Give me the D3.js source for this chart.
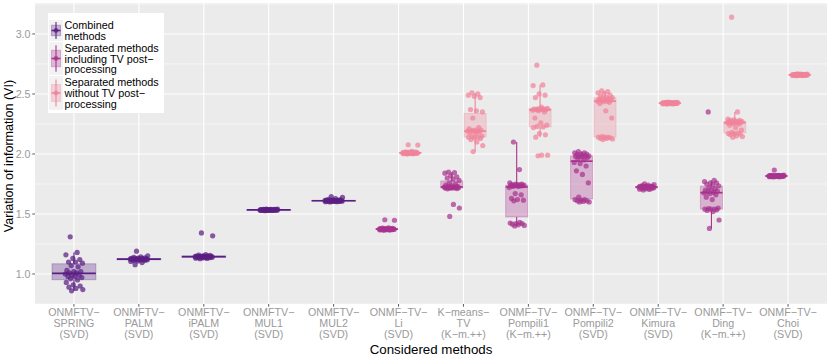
<!DOCTYPE html>
<html>
<head>
<meta charset="utf-8">
<script src="https://cdn.jsdelivr.net/npm/d3@7"></script>
<style>
  body { margin: 0; background: #ffffff; }
  svg { display: block; font-family: "Liberation Sans", Arial, Helvetica, sans-serif; }
</style>
</head>
<body>
<div id="chart"></div>
<script>
// categories along the x axis
const categories = ["SPRING", "PALM", "iPALM", "MUL1", "MUL2", "Li", "Kmeans", "Pompili1", "Pompili2", "Kimura", "Ding", "Choi"];

const tickLines = [
  ["ONMFTV\u2212", "SPRING", "(SVD)"],
  ["ONMFTV\u2212", "PALM", "(SVD)"],
  ["ONMFTV\u2212", "iPALM", "(SVD)"],
  ["ONMFTV\u2212", "MUL1", "(SVD)"],
  ["ONMFTV\u2212", "MUL2", "(SVD)"],
  ["ONMF\u2212TV\u2212", "Li", "(SVD)"],
  ["K\u2212means\u2212", "TV", "(K\u2212m.++)"],
  ["ONMF\u2212TV\u2212", "Pompili1", "(K\u2212m.++)"],
  ["ONMF\u2212TV\u2212", "Pompili2", "(SVD)"],
  ["ONMF\u2212TV\u2212", "Kimura", "(SVD)"],
  ["ONMF\u2212TV\u2212", "Ding", "(K\u2212m.++)"],
  ["ONMF\u2212TV\u2212", "Choi", "(SVD)"]
];

const yTicks = [1.0, 1.5, 2.0, 2.5, 3.0];
const yMinorTicks = [0.75, 1.25, 1.75, 2.25, 2.75, 3.25];

const legendLines = [
  ["Combined", "methods"],
  ["Separated methods", "including TV post\u2212", "processing"],
  ["Separated methods", "without TV post\u2212", "processing"]
];

const groupColors = ["#5a1f83", "#a8338f", "#f0849a"];

// combined methods
const springVI = [0.86, 0.87, 0.88, 0.89, 0.90, 0.91, 0.93, 0.95, 0.96, 0.97, 0.98, 0.98, 0.99, 0.99, 1.00, 1.01, 1.01, 1.02, 1.02, 1.03, 1.06, 1.07, 1.09, 1.10, 1.10, 1.12, 1.13, 1.16, 1.18, 1.31];
const palmVI = [1.190, 1.152, 1.143, 1.138, 1.134, 1.132, 1.130, 1.129, 1.128, 1.127, 1.126, 1.126, 1.125, 1.125, 1.124, 1.124, 1.123, 1.123, 1.122, 1.121, 1.120, 1.120, 1.118, 1.116, 1.114, 1.112, 1.108, 1.104, 1.095, 1.078];
const ipalmVI = [1.342, 1.318, 1.162, 1.158, 1.155, 1.152, 1.150, 1.149, 1.148, 1.147, 1.146, 1.146, 1.145, 1.145, 1.144, 1.144, 1.143, 1.143, 1.142, 1.142, 1.141, 1.140, 1.139, 1.138, 1.137, 1.136, 1.134, 1.132, 1.130, 1.128];
const mul1VI = [1.541, 1.540, 1.539, 1.538, 1.538, 1.537, 1.537, 1.536, 1.536, 1.536, 1.535, 1.535, 1.535, 1.534, 1.534, 1.534, 1.534, 1.533, 1.533, 1.533, 1.533, 1.532, 1.532, 1.532, 1.531, 1.531, 1.530, 1.530, 1.529, 1.528];
const mul2VI = [1.645, 1.638, 1.628, 1.622, 1.618, 1.616, 1.615, 1.614, 1.613, 1.613, 1.612, 1.612, 1.611, 1.611, 1.611, 1.610, 1.610, 1.610, 1.609, 1.609, 1.608, 1.608, 1.607, 1.607, 1.606, 1.605, 1.604, 1.603, 1.602, 1.600];

// separated methods including TV post-processing
const liWithTV = [1.452, 1.448, 1.385, 1.382, 1.380, 1.379, 1.378, 1.377, 1.377, 1.376, 1.376, 1.375, 1.375, 1.375, 1.374, 1.374, 1.374, 1.373, 1.373, 1.372, 1.372, 1.371, 1.371, 1.370, 1.370, 1.369, 1.368, 1.367, 1.366, 1.364];
const kmeansWithTV = [1.48, 1.55, 1.58, 1.71, 1.712, 1.715, 1.716, 1.717, 1.718, 1.719, 1.72, 1.721, 1.722, 1.723, 1.724, 1.726, 1.728, 1.73, 1.735, 1.74, 1.75, 1.76, 1.78, 1.79, 1.80, 1.81, 1.82, 1.84, 1.845, 1.85];
const pompili1WithTV = [1.40, 1.405, 1.41, 1.415, 1.42, 1.42, 1.425, 1.43, 1.61, 1.615, 1.62, 1.63, 1.66, 1.67, 1.72, 1.73, 1.73, 1.735, 1.735, 1.74, 1.74, 1.74, 1.74, 1.745, 1.745, 1.75, 1.75, 1.76, 1.87, 2.10];
const pompili2WithTV = [1.60, 1.60, 1.605, 1.61, 1.61, 1.615, 1.62, 1.62, 1.64, 1.76, 1.83, 1.86, 1.90, 1.92, 1.93, 1.95, 1.96, 1.97, 1.975, 1.98, 1.98, 1.98, 1.985, 1.99, 1.995, 2.00, 2.00, 2.01, 2.01, 2.02];
const kimuraWithTV = [1.752, 1.745, 1.740, 1.736, 1.733, 1.731, 1.730, 1.729, 1.728, 1.727, 1.727, 1.726, 1.726, 1.725, 1.725, 1.724, 1.724, 1.723, 1.722, 1.721, 1.720, 1.719, 1.718, 1.716, 1.714, 1.712, 1.710, 1.707, 1.704, 1.700];
const dingWithTV = [1.38, 1.45, 1.52, 1.53, 1.535, 1.54, 1.54, 1.54, 1.545, 1.55, 1.62, 1.64, 1.66, 1.67, 1.675, 1.68, 1.685, 1.69, 1.70, 1.70, 1.71, 1.72, 1.735, 1.74, 1.75, 1.76, 1.76, 1.77, 1.78, 2.35];
const choiWithTV = [1.866, 1.825, 1.822, 1.821, 1.820, 1.820, 1.819, 1.819, 1.818, 1.818, 1.818, 1.817, 1.817, 1.817, 1.817, 1.816, 1.816, 1.816, 1.815, 1.815, 1.815, 1.814, 1.814, 1.813, 1.813, 1.812, 1.812, 1.811, 1.810, 1.809];

// separated methods without TV post-processing
const liNoTV = [2.076, 2.074, 2.022, 2.018, 2.016, 2.015, 2.014, 2.013, 2.012, 2.012, 2.011, 2.011, 2.010, 2.010, 2.010, 2.009, 2.009, 2.009, 2.008, 2.008, 2.007, 2.007, 2.006, 2.006, 2.005, 2.004, 2.003, 2.002, 2.001, 1.999];
const kmeansNoTV = [2.02, 2.07, 2.10, 2.12, 2.13, 2.135, 2.14, 2.14, 2.145, 2.15, 2.17, 2.18, 2.185, 2.19, 2.19, 2.19, 2.195, 2.20, 2.20, 2.21, 2.22, 2.30, 2.35, 2.36, 2.37, 2.47, 2.48, 2.49, 2.50, 2.51];
const pompili1NoTV = [1.985, 1.99, 1.99, 2.14, 2.16, 2.17, 2.22, 2.225, 2.23, 2.24, 2.26, 2.30, 2.35, 2.36, 2.365, 2.37, 2.37, 2.37, 2.372, 2.374, 2.375, 2.375, 2.38, 2.39, 2.47, 2.49, 2.50, 2.57, 2.575, 2.74];
const pompili2NoTV = [2.12, 2.125, 2.13, 2.13, 2.135, 2.14, 2.14, 2.14, 2.145, 2.30, 2.36, 2.42, 2.43, 2.435, 2.44, 2.44, 2.445, 2.45, 2.45, 2.455, 2.46, 2.465, 2.47, 2.47, 2.48, 2.49, 2.50, 2.51, 2.52, 2.525];
const kimuraNoTV = [2.432, 2.430, 2.429, 2.428, 2.428, 2.427, 2.427, 2.426, 2.426, 2.426, 2.425, 2.425, 2.425, 2.425, 2.424, 2.424, 2.424, 2.423, 2.423, 2.423, 2.422, 2.422, 2.421, 2.421, 2.420, 2.420, 2.419, 2.418, 2.417, 2.416];
const dingNoTV = [2.14, 2.145, 2.15, 2.16, 2.165, 2.17, 2.17, 2.175, 2.18, 2.20, 2.22, 2.24, 2.25, 2.255, 2.26, 2.26, 2.262, 2.265, 2.265, 2.267, 2.268, 2.27, 2.27, 2.275, 2.28, 2.28, 2.285, 2.29, 2.35, 3.14];
const choiNoTV = [2.668, 2.666, 2.665, 2.664, 2.663, 2.663, 2.662, 2.662, 2.661, 2.661, 2.661, 2.660, 2.660, 2.660, 2.660, 2.659, 2.659, 2.659, 2.658, 2.658, 2.658, 2.657, 2.657, 2.656, 2.656, 2.655, 2.655, 2.654, 2.653, 2.652];

const boxes = [
  { cat: "SPRING", group: 0, values: springVI },
  { cat: "PALM", group: 0, values: palmVI },
  { cat: "iPALM", group: 0, values: ipalmVI },
  { cat: "MUL1", group: 0, values: mul1VI },
  { cat: "MUL2", group: 0, values: mul2VI },
  { cat: "Li", group: 1, values: liWithTV },
  { cat: "Li", group: 2, values: liNoTV },
  { cat: "Kmeans", group: 1, values: kmeansWithTV },
  { cat: "Kmeans", group: 2, values: kmeansNoTV },
  { cat: "Pompili1", group: 1, values: pompili1WithTV },
  { cat: "Pompili1", group: 2, values: pompili1NoTV },
  { cat: "Pompili2", group: 1, values: pompili2WithTV },
  { cat: "Pompili2", group: 2, values: pompili2NoTV },
  { cat: "Kimura", group: 1, values: kimuraWithTV },
  { cat: "Kimura", group: 2, values: kimuraNoTV },
  { cat: "Ding", group: 1, values: dingWithTV },
  { cat: "Ding", group: 2, values: dingNoTV },
  { cat: "Choi", group: 1, values: choiWithTV },
  { cat: "Choi", group: 2, values: choiNoTV }
];

const width = 830;
const height = 356;
const panel = { left: 35, right: 827, top: 3, bottom: 304 };

const svg = d3.select("#chart")
  .append("svg")
  .attr("width", width)
  .attr("height", height);

const x = d3.scalePoint()
  .domain(categories)
  .range([panel.left, panel.right])
  .padding(0.6);

const y = d3.scaleLinear()
  .domain([0.75, 3.258])
  .range([panel.bottom, panel.top]);

const step = x.step();

// panel background + grid
svg.append("rect")
  .attr("x", panel.left)
  .attr("y", panel.top)
  .attr("width", panel.right - panel.left)
  .attr("height", panel.bottom - panel.top)
  .attr("fill", "#ebebeb");

svg.append("g")
  .selectAll("line")
  .data(yMinorTicks.filter(d => y(d) >= panel.top && y(d) <= panel.bottom))
  .enter()
  .append("line")
  .attr("x1", panel.left)
  .attr("x2", panel.right)
  .attr("y1", d => y(d))
  .attr("y2", d => y(d))
  .attr("stroke", "#ffffff")
  .attr("stroke-width", 0.55);

svg.append("g")
  .selectAll("line")
  .data(yTicks)
  .enter()
  .append("line")
  .attr("x1", panel.left)
  .attr("x2", panel.right)
  .attr("y1", d => y(d))
  .attr("y2", d => y(d))
  .attr("stroke", "#ffffff")
  .attr("stroke-width", 1.1);

svg.append("g")
  .selectAll("line")
  .data(categories)
  .enter()
  .append("line")
  .attr("x1", d => x(d))
  .attr("x2", d => x(d))
  .attr("y1", panel.top)
  .attr("y2", panel.bottom)
  .attr("stroke", "#ffffff")
  .attr("stroke-width", 1.1);

// box geometry
function boxCenter(b) {
  if (b.group === 0) return x(b.cat);
  return x(b.cat) + (b.group === 1 ? -0.18 : 0.18) * step;
}

function boxWidth(b) {
  return b.group === 0 ? 0.675 * step : 0.34 * step;
}

function boxStats(values) {
  const s = values.slice().sort(d3.ascending);
  const q1 = d3.quantile(s, 0.25);
  const med = d3.quantile(s, 0.5);
  const q3 = d3.quantile(s, 0.75);
  const iqr = q3 - q1;
  const lo = d3.min(s.filter(v => v >= q1 - 1.5 * iqr));
  const hi = d3.max(s.filter(v => v <= q3 + 1.5 * iqr));
  return { q1, med, q3, lo, hi };
}

const boxLayer = svg.append("g");

boxes.forEach(b => {
  const st = boxStats(b.values);
  const cx = boxCenter(b);
  const w = boxWidth(b);
  const color = groupColors[b.group];
  const g = boxLayer.append("g");

  g.append("line")
    .attr("x1", cx).attr("x2", cx)
    .attr("y1", y(st.q3)).attr("y2", y(st.hi))
    .attr("stroke", color).attr("stroke-width", 1.1);

  g.append("line")
    .attr("x1", cx).attr("x2", cx)
    .attr("y1", y(st.q1)).attr("y2", y(st.lo))
    .attr("stroke", color).attr("stroke-width", 1.1);

  g.append("rect")
    .attr("x", cx - w / 2)
    .attr("y", y(st.q3))
    .attr("width", w)
    .attr("height", Math.max(y(st.q1) - y(st.q3), 0.5))
    .attr("fill", color)
    .attr("fill-opacity", 0.3)
    .attr("stroke", color)
    .attr("stroke-opacity", 0.3)
    .attr("stroke-width", 1);

  g.append("line")
    .attr("x1", cx - w / 2).attr("x2", cx + w / 2)
    .attr("y1", y(st.med)).attr("y2", y(st.med))
    .attr("stroke", color).attr("stroke-width", 1.7);
});

// jittered points
const pointLayer = svg.append("g");

boxes.forEach(b => {
  const cx = boxCenter(b);
  const jw = (b.group === 0 ? 0.14 : 0.12) * step;
  const color = groupColors[b.group];

  pointLayer.selectAll(null)
    .data(b.values)
    .enter()
    .append("circle")
    .attr("cx", (d, i) => cx + (((i * 0.6180339887 + 0.37) % 1) - 0.5) * 2 * jw)
    .attr("cy", d => y(d))
    .attr("r", 2.6)
    .attr("fill", color)
    .attr("fill-opacity", 0.72);
});

// axes
const axisColor = "#333333";
const tickText = "#9a9a9a";

const yAxis = svg.append("g");
yAxis.selectAll("line")
  .data(yTicks)
  .enter()
  .append("line")
  .attr("x1", panel.left - 2.7)
  .attr("x2", panel.left)
  .attr("y1", d => y(d))
  .attr("y2", d => y(d))
  .attr("stroke", axisColor)
  .attr("stroke-width", 0.8);

yAxis.selectAll("text")
  .data(yTicks)
  .enter()
  .append("text")
  .attr("x", panel.left - 4.5)
  .attr("y", d => y(d) + 3.8)
  .attr("text-anchor", "end")
  .attr("font-size", "10.7px")
  .attr("fill", tickText)
  .text(d => d.toFixed(1));

const xAxis = svg.append("g");
xAxis.selectAll("line")
  .data(categories)
  .enter()
  .append("line")
  .attr("x1", d => x(d))
  .attr("x2", d => x(d))
  .attr("y1", panel.bottom)
  .attr("y2", panel.bottom + 2.7)
  .attr("stroke", axisColor)
  .attr("stroke-width", 0.8);

categories.forEach((c, i) => {
  const t = xAxis.append("text")
    .attr("text-anchor", "middle")
    .attr("font-size", "10.7px")
    .attr("fill", tickText);
  tickLines[i].forEach((line, k) => {
    t.append("tspan")
      .attr("x", x(c))
      .attr("y", 315.5 + k * 11.2)
      .text(line);
  });
});

svg.append("text")
  .attr("x", (panel.left + panel.right) / 2)
  .attr("y", 354)
  .attr("text-anchor", "middle")
  .attr("font-size", "13.3px")
  .attr("fill", "#000000")
  .text("Considered methods");

svg.append("text")
  .attr("transform", "translate(13, 156) rotate(-90)")
  .attr("text-anchor", "middle")
  .attr("font-size", "12.6px")
  .attr("fill", "#000000")
  .text("Variation of information (VI)");

// legend
const legend = svg.append("g");

legend.append("rect")
  .attr("x", 48)
  .attr("y", 13)
  .attr("width", 116)
  .attr("height", 100)
  .attr("fill", "#ffffff");

const keyBoxes = [
  { top: 20, bottom: 41 },
  { top: 42, bottom: 75 },
  { top: 76, bottom: 110 }
];
const legendBaselines = [
  [29, 39.5],
  [51.5, 62.5, 73],
  [86, 97, 108]
];

keyBoxes.forEach((k, i) => {
  const color = groupColors[i];
  const cx = 56;
  const h = k.bottom - k.top;
  const cy = (k.top + k.bottom) / 2;

  legend.append("rect")
    .attr("x", 49)
    .attr("y", k.top)
    .attr("width", 14)
    .attr("height", h)
    .attr("fill", "#f2f2f2");

  legend.append("line")
    .attr("x1", cx).attr("x2", cx)
    .attr("y1", k.top + h * 0.1).attr("y2", k.bottom - h * 0.1)
    .attr("stroke", color).attr("stroke-width", 1.1);

  legend.append("rect")
    .attr("x", cx - 4.5)
    .attr("y", k.top + h * 0.25)
    .attr("width", 9)
    .attr("height", h * 0.5)
    .attr("fill", color)
    .attr("fill-opacity", 0.3)
    .attr("stroke", color)
    .attr("stroke-opacity", 0.3);

  legend.append("line")
    .attr("x1", cx - 4.5).attr("x2", cx + 4.5)
    .attr("y1", cy).attr("y2", cy)
    .attr("stroke", color).attr("stroke-width", 1.5);

  legend.append("circle")
    .attr("cx", cx)
    .attr("cy", cy)
    .attr("r", 2.4)
    .attr("fill", color)
    .attr("fill-opacity", 0.72);

  const t = legend.append("text")
    .attr("font-size", "10.8px")
    .attr("fill", "#000000");
  legendLines[i].forEach((line, j) => {
    t.append("tspan")
      .attr("x", 64.5)
      .attr("y", legendBaselines[i][j])
      .text(line);
  });
});
</script>
</body>
</html>
